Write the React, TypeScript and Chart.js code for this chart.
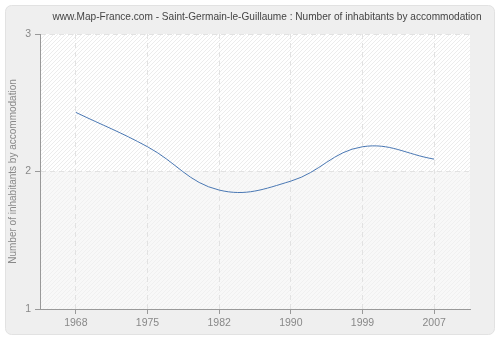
import React, { useEffect, useRef } from "react";
import { Chart, registerables } from "chart.js";

Chart.register(...registerables);

const titleText = "www.Map-France.com - Saint-Germain-le-Guillaume : Number of inhabitants by accommodation";
const yAxisTitle = "Number of inhabitants by accommodation";
const years = ["1968", "1975", "1982", "1990", "1999", "2007"];
const inhabitantsPerAccommodation = [2.43, 2.18, 1.865, 1.93, 2.18, 2.09];
const yTicks = [1, 2, 3];

const FONT = "'Liberation Sans', Arial, sans-serif";

function makePattern(ctx: CanvasRenderingContext2D, bg: string, line: string) {
  const size = 4;
  const c = document.createElement("canvas");
  c.width = size;
  c.height = size;
  const p = c.getContext("2d")!;
  p.fillStyle = bg;
  p.fillRect(0, 0, size, size);
  p.strokeStyle = line;
  p.lineWidth = 1;
  p.beginPath();
  p.moveTo(0, size);
  p.lineTo(size, 0);
  p.moveTo(-size, size);
  p.lineTo(0, 0);
  p.moveTo(size, 2 * size);
  p.lineTo(2 * size, size);
  p.stroke();
  return ctx.createPattern(c, "repeat")!;
}

const backgroundPlugin = {
  id: "bgPanel",
  beforeDraw(chart: any) {
    const { ctx, chartArea, scales } = chart;
    ctx.save();
    ctx.fillStyle = "#ffffff";
    ctx.fillRect(0, 0, chart.width, chart.height);
    ctx.beginPath();
    ctx.roundRect(5.5, 5.5, 489, 329, 6);
    ctx.fillStyle = "#efefef";
    ctx.fill();
    ctx.strokeStyle = "#e2e2e2";
    ctx.lineWidth = 1;
    ctx.stroke();
    const midY = scales.y.getPixelForValue(2);
    ctx.fillStyle = makePattern(ctx, "#ffffff", "#ececec");
    ctx.fillRect(chartArea.left, chartArea.top, chartArea.right - chartArea.left, midY - chartArea.top);
    ctx.fillStyle = makePattern(ctx, "#f8f8f8", "#f0f0f0");
    ctx.fillRect(chartArea.left, midY, chartArea.right - chartArea.left, chartArea.bottom - midY);
    ctx.restore();
  },
  afterDraw(chart: any) {
    const { ctx } = chart;
    ctx.save();
    ctx.font = `10.1px ${FONT}`;
    ctx.fillStyle = "#444444";
    ctx.textAlign = "center";
    ctx.textBaseline = "middle";
    ctx.fillText(titleText, 267, 17);
    ctx.restore();
  },
};

export default function App() {
  const ref = useRef<HTMLCanvasElement | null>(null);
  useEffect(() => {
    if (!ref.current) return;
    const chart = new Chart(ref.current, {
      type: "line",
      data: {
        labels: years,
        datasets: [
          {
            data: inhabitantsPerAccommodation,
            borderColor: "#4a78b4",
            borderWidth: 1,
            pointRadius: 0,
            tension: 0.4,
            fill: false,
          },
        ],
      },
      options: {
        animation: false,
        responsive: false,
        events: [],
        layout: { padding: { left: 0, top: 34, right: 30, bottom: 0 } },
        plugins: { legend: { display: false }, tooltip: { enabled: false }, title: { display: false } },
        scales: {
          x: {
            type: "category",
            offset: true,
            afterFit: (s: any) => {
              s.height = 31;
            },
            grid: {
              color: "#e2e2e2",
              lineWidth: 1,
              drawTicks: true,
              tickLength: 5,
              tickColor: "#999999",
              tickBorderDash: [],
            },
            border: { display: true, color: "#999999", width: 1, dash: [5, 4] },
            ticks: { color: "#888888", font: { family: FONT, size: 10.5 }, padding: 3, maxRotation: 0 },
          },
          y: {
            min: 1,
            max: 3,
            afterFit: (s: any) => {
              s.width = 40;
            },
            afterBuildTicks: (s: any) => {
              s.ticks = yTicks.map((v) => ({ value: v }));
            },
            grid: {
              color: "#e2e2e2",
              lineWidth: 1,
              drawTicks: true,
              tickLength: 5,
              tickColor: "#999999",
              tickBorderDash: [],
            },
            border: { display: true, color: "#999999", width: 1, dash: [5, 4] },
            ticks: { color: "#888888", font: { family: FONT, size: 10.5 }, padding: 4 },
            title: {
              display: true,
              text: yAxisTitle,
              color: "#888888",
              font: { family: FONT, size: 10 },
              padding: { top: 7, bottom: 0 },
            },
          },
        },
      },
      plugins: [backgroundPlugin],
    } as any);
    return () => chart.destroy();
  }, []);
  return (
    <div style={{ position: "absolute", left: 0, top: 0, width: 500, height: 340 }}>
      <canvas ref={ref} width={500} height={340} />
    </div>
  );
}
